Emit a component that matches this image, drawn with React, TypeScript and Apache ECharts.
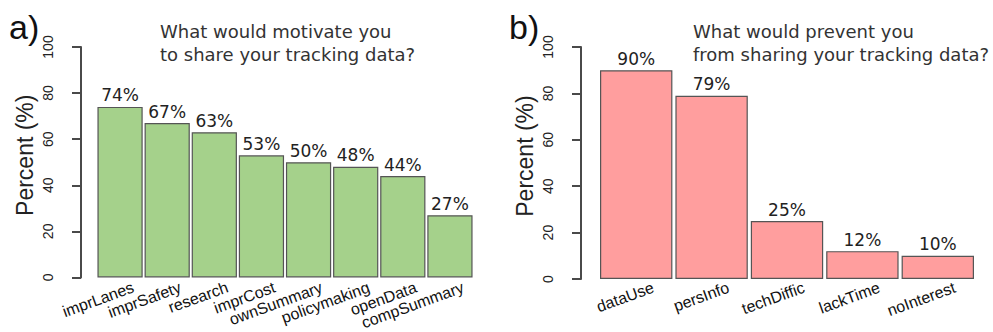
import React, { useEffect, useRef } from "react";
import * as echarts from "echarts";

const motivateCategories = ["imprLanes", "imprSafety", "research", "imprCost", "ownSummary", "policymaking", "openData", "compSummary"];
const motivateValues = [74, 67, 63, 53, 50, 48, 44, 27];
const preventCategories = ["dataUse", "persInfo", "techDiffic", "lackTime", "noInterest"];
const preventValues = [90, 79, 25, 12, 10];
const yMin = 0;
const yMax = 100;
const yStep = 20;
const panelLetters = ["a)", "b)"];
const panelTitles = ["What would motivate you\nto share your tracking data?", "What would prevent you\nfrom sharing your tracking data?"];
const yAxisName = "Percent (%)";

export default function App() {
  const ref = useRef<HTMLDivElement>(null);
  useEffect(() => {
    if (!ref.current) return;
    const chart = echarts.init(ref.current, null, { renderer: "svg" });
    const axisGray = "#4a4a4a";
    const yAxisCommon = (gridIndex: number, offset: number) => ({
      type: "value",
      gridIndex,
      min: yMin,
      max: yMax,
      interval: yStep,
      offset,
      name: yAxisName,
      nameLocation: "middle",
      nameRotate: 90,
      nameGap: 45,
      nameTextStyle: { fontFamily: "Liberation Sans", fontSize: 23, color: "#222", padding: [0, 0, 0, 14] },
      axisLine: { show: true, onZero: false, lineStyle: { color: axisGray, width: 2, opacity: 1, type: "solid" } },
      axisTick: { show: true, length: 9, lineStyle: { color: axisGray, width: 2 } },
      axisLabel: { rotate: 90, margin: 26, fontFamily: "Liberation Sans", fontSize: 14, color: "#222" },
      splitLine: { show: false },
      z: 10,
    });
    const xAxisCommon = (gridIndex: number, data: string[], shift: number) => ({
      type: "category",
      gridIndex,
      data,
      axisLine: { show: false },
      axisTick: { show: false },
      axisLabel: {
        interval: 0,
        rotate: 20,
        margin: 14,
        fontFamily: "Liberation Sans",
        fontSize: 16,
        color: "#111",
        padding: [0, -shift, 0, 0],
      },
    });
    const barCommon = {
      type: "bar",
      barCategoryGap: "4%",
      label: {
        show: true,
        position: "top",
        distance: 3,
        formatter: "{c}%",
        fontFamily: "DejaVu Sans",
        fontSize: 17,
        color: "#222",
      },
    };
    const titleStyle = { fontFamily: "DejaVu Sans", fontSize: 18, fontWeight: "normal", color: "#333", lineHeight: 23 };
    const letterStyle = { fontFamily: "Liberation Sans", fontSize: 34, fontWeight: "normal", color: "#111" };
    chart.setOption({
      animation: false,
      backgroundColor: "#ffffff",
      title: [
        { text: panelLetters[0], left: 4, top: 5, textStyle: letterStyle },
        { text: panelLetters[1], left: 504, top: 5, textStyle: letterStyle },
        { text: panelTitles[0], left: 155, top: 15, textStyle: titleStyle },
        { text: panelTitles[1], left: 688, top: 15, textStyle: titleStyle },
      ],
      grid: [
        { left: 96.5, width: 377, top: 47, height: 232 },
        { left: 598.5, width: 377, top: 47, height: 232 },
      ],
      xAxis: [xAxisCommon(0, motivateCategories, 14), xAxisCommon(1, preventCategories, 18)],
      yAxis: [yAxisCommon(0, 15.5), yAxisCommon(1, 17.5)],
      series: [
        {
          ...barCommon,
          xAxisIndex: 0,
          yAxisIndex: 0,
          data: motivateValues,
          itemStyle: { color: "#a5d18b", borderColor: "#555", borderWidth: 1.2 },
        },
        {
          ...barCommon,
          xAxisIndex: 1,
          yAxisIndex: 1,
          data: preventValues,
          itemStyle: { color: "#ff9e9e", borderColor: "#555", borderWidth: 1.2 },
        },
      ],
    });
    return () => chart.dispose();
  }, []);
  return (
    <div
      ref={ref}
      style={{ position: "fixed", left: 0, top: 0, width: 993, height: 332, background: "#fff" }}
    />
  );
}
